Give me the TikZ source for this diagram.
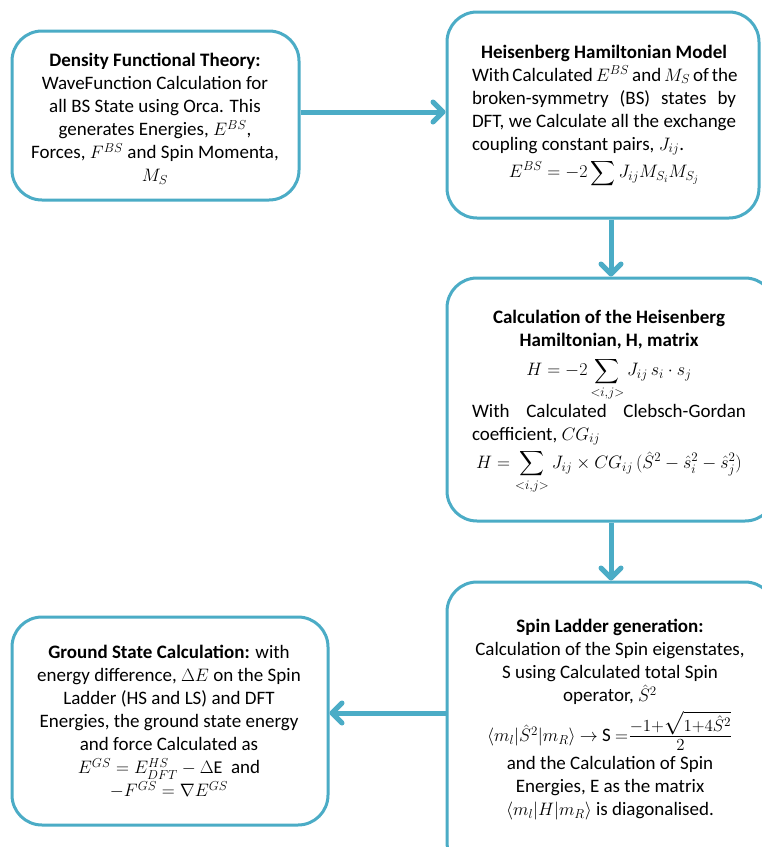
\RequirePackage{fix-cm}
\documentclass[tikz,border=0pt]{standalone}
\usepackage{amsmath}
\usepackage{graphicx}
\usepackage{fontspec}
\setmainfont{Carlito}
\usetikzlibrary{arrows.meta}
\DeclareMathSizes{19}{18}{13}{10}
\definecolor{accent}{RGB}{75,172,198}
\tikzset{
  box/.style={draw=accent, line width=3pt, rounded corners=30pt, fill=white},
  txt/.style={align=center, inner sep=0pt, font=\fontsize{19}{23}\selectfont},
  flow/.style={draw=accent, line width=5pt, -{Straight Barb[length=10pt,width=20pt,round]}},
}
\begin{document}
\begin{tikzpicture}[x=1pt,y=-1pt]
\useasboundingbox (0,0) rectangle (762,847);
\clip (0,0) rectangle (762,847);
\fill[white] (0,0) rectangle (762,847);
% boxes
\node[box, minimum width=287pt, minimum height=169pt] (b1) at (155.5,115.5) {};
\node[box, minimum width=312pt, minimum height=206pt] (b2) at (603,115) {};
\node[box, minimum width=328pt, minimum height=243pt] (b3) at (611,399.5) {};
\node[box, minimum width=328pt, minimum height=290pt] (b4) at (611,727) {};
\node[box, minimum width=316pt, minimum height=208pt] (b5) at (170,721) {};
% texts
\node[txt] (t1) at (155,119) {\textbf{Density Functional Theory:}\\
WaveFunction Calculation for\\
all BS State using Orca. This\\
generates Energies, $E^{BS}$,\\
Forces, $F^{BS}$ and Spin Momenta,\\
$M_S$};
\node[txt] (t2) at (604,116) {\textbf{Heisenberg Hamiltonian Model}\\
\makebox[264pt][s]{With Calculated $E^{BS}$ and $M_S$ of the}\\
\makebox[264pt][s]{broken-symmetry (BS) states by}\\
\makebox[264pt][s]{DFT, we Calculate all the exchange}\\
\makebox[264pt][l]{coupling constant pairs, $J_{ij}$.}\\[3pt]
$\displaystyle E^{BS}=-2\sum J_{ij}M_{S_i}M_{S_j}$};
\node[txt] (t3) at (609,402) {\textbf{Calculation of the Heisenberg}\\
\textbf{Hamiltonian, H, matrix}\\[6pt]
$\displaystyle H=-2\sum_{<i,j>} J_{ij}\, s_i\cdot s_j$\\[2pt]
\makebox[274pt][s]{With Calculated Clebsch-Gordan}\\
\makebox[274pt][l]{coefficient, $CG_{ij}$}\\[4pt]
$\displaystyle H=\sum_{<i,j>} J_{ij}\times CG_{ij}\,(\hat{S}^2-\hat{s}_i^2-\hat{s}_j^2)$};
\node[txt] (t4) at (610,720) {\textbf{Spin Ladder generation:}\\
Calculation of the Spin eigenstates,\\
S using Calculated total Spin\\
operator, $\hat{S}^2$\\[17pt]
$\langle m_l|\hat{S}^2|m_R\rangle$ $\rightarrow$ S $=$\smash{\raisebox{-0.4pt}{\scalebox{1.3}{$\frac{-1+\sqrt{1+4\hat{S}^2}}{2}$}}}\\[5pt]
and the Calculation of Spin\\
Energies, E as the matrix\\
$\langle m_l|H|m_R\rangle$ is diagonalised.};
\node[txt] (t5) at (169,722) {\textbf{Ground State Calculation:} with\\
energy difference, $\Delta E$ on the Spin\\
Ladder (HS and LS) and DFT\\
Energies, the ground state energy\\
and force Calculated as\\
$E^{GS}=E^{HS}_{DFT}-\Delta\mathrm{E}$\ \ and\\
$-F^{GS}=\nabla E^{GS}$};
% connectors
\draw[flow] ([yshift=3.5pt]b1.east) -- ([yshift=3.5pt]b1.east -| b2.west);
\draw[flow] (b3.north |- b2.south) -- (b3.north);
\draw[flow] (b3.south) -- (b4.north);
\draw[flow] ([yshift=8pt]b5.east -| b4.west) -- ([yshift=8pt]b5.east);
\end{tikzpicture}
\end{document}
